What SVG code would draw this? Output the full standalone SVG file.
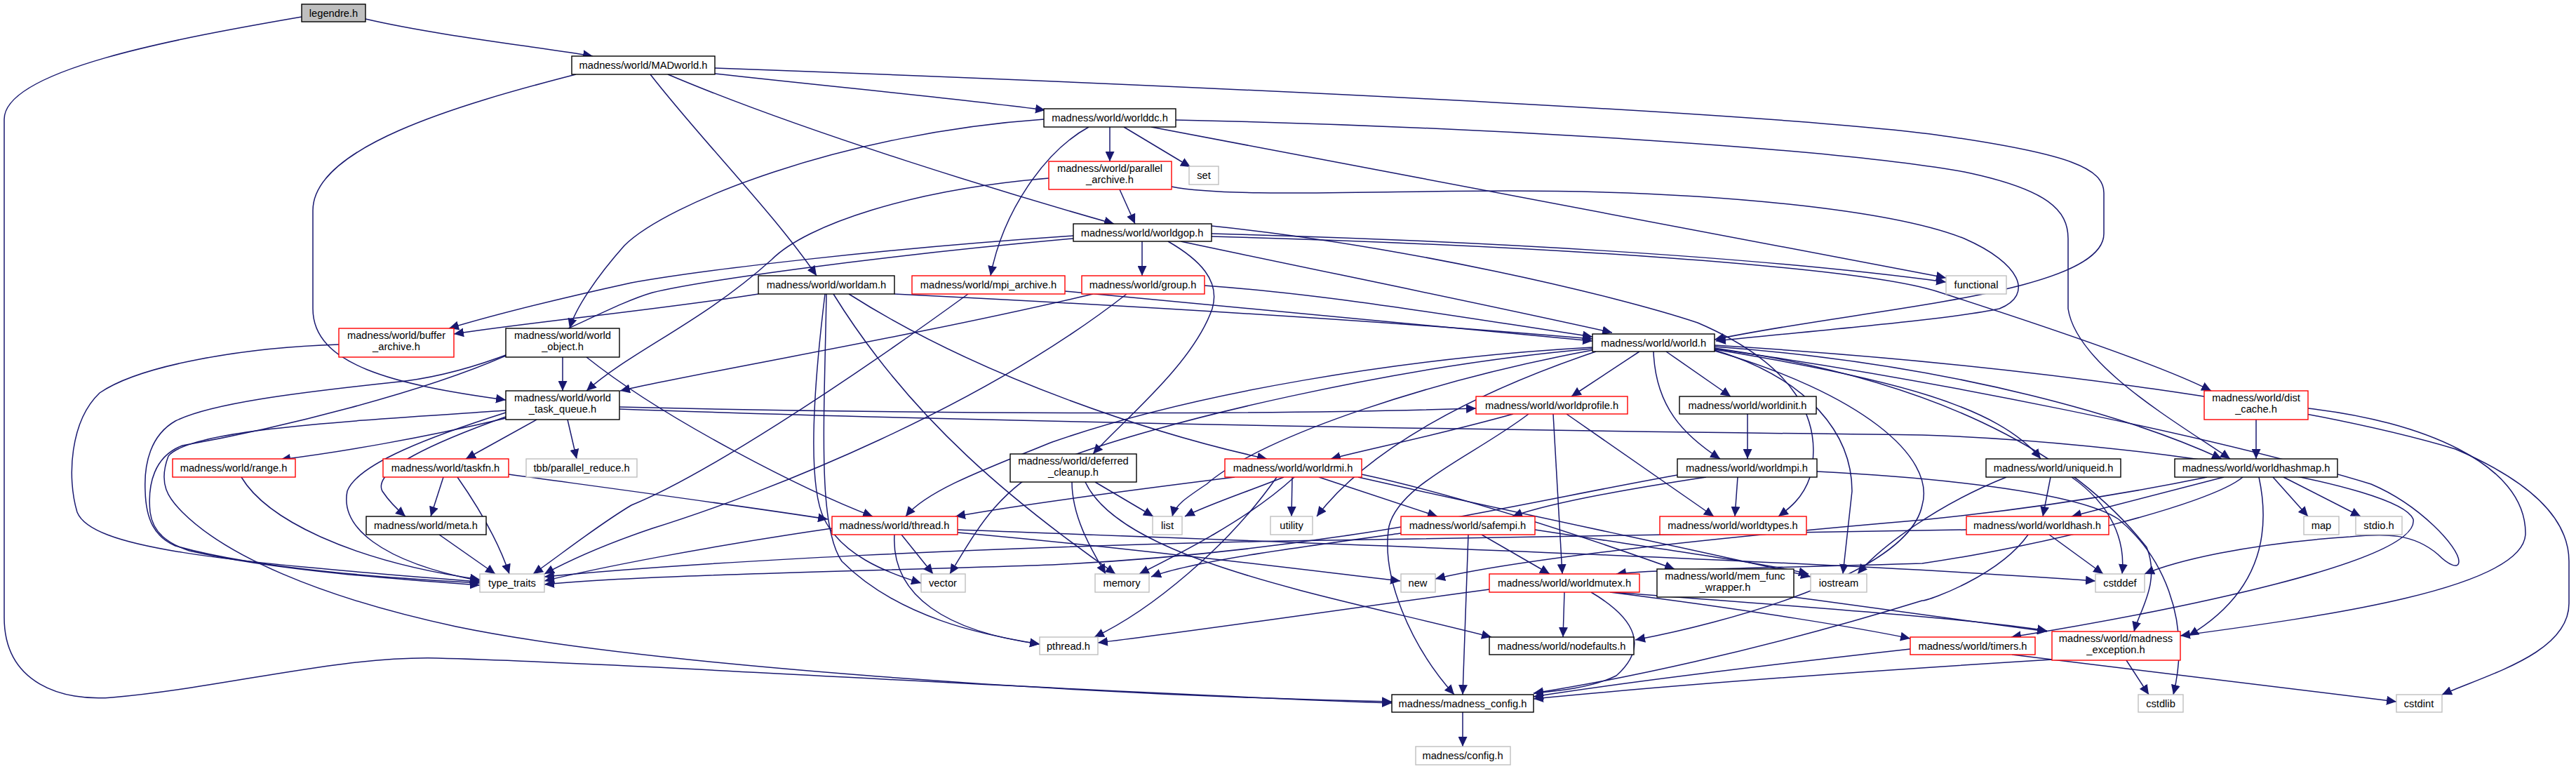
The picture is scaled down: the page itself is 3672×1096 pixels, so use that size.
<svg xmlns="http://www.w3.org/2000/svg" width="3672" height="1096" viewBox="0 0 3672 1096">
<defs>
<style>
.n rect{fill:#fff;stroke:#000;stroke-width:1.4}
.n.r rect{stroke:#ff0000}
.n.g rect{stroke:#bfbfbf}
.n.s rect{fill:#bfbfbf}
text{font-family:"Liberation Sans",Arial,sans-serif;font-size:14.7px;text-anchor:middle;fill:#000}
.e path{fill:none;stroke:#191970;stroke-width:1.5;marker-end:url(#a)}
</style>
<marker id="a" markerUnits="userSpaceOnUse" markerWidth="15" markerHeight="13" refX="14" refY="6.5" orient="auto"><path d="M0,0 L14,6.5 L0,13 z" fill="#191970"/></marker>
</defs>
<rect width="3672" height="1096" fill="#fff"/>
<g id="edges" class="e">
<path d="M521,27 C620,50 760,66 845,80"/>
<path d="M430,24 C250,55 6,100 6,170 L6,880 C6,975 90,1000 160,994 C320,980 480,935 623,938 C900,945 1500,985 1984,1002"/>
<path d="M1019,105 C1200,125 1380,142 1490,157"/>
<path d="M952,106 C1150,190 1450,280 1588,319"/>
<path d="M927,106 C1000,200 1100,300 1164,393"/>
<path d="M821,106 C650,150 446,210 446,300 L446,440 C446,520 560,548 721,570"/>
<path d="M1019,97 C1600,118 2550,160 2780,195 C2950,220 2999,240 2999,275 L2999,333 C2999,420 2650,440 2444,484"/>
<path d="M1582,181 L1582,230"/>
<path d="M1602,181 L1697,238"/>
<path d="M1641,181 L2774,396"/>
<path d="M1488,170 C1200,190 950,290 890,350 C850,395 820,440 812,468"/>
<path d="M1552,181 C1490,215 1430,300 1412,393"/>
<path d="M1676,171 C2100,180 2600,210 2800,245 C2920,270 2948,300 2948,340 L2948,440 C2960,520 3100,600 3179,654"/>
<path d="M1596,270 L1618,319"/>
<path d="M1670,266 C1750,282 1950,272 2150,272 C2450,272 2700,300 2800,340 C2880,375 2900,420 2850,440 C2780,455 2600,470 2446,486"/>
<path d="M1495,254 C1300,270 1150,320 1100,370 C1000,460 900,500 836,557"/>
<path d="M1628,344 L1628,393"/>
<path d="M1665,344 C1710,370 1740,400 1728,440 C1700,520 1600,600 1558,647"/>
<path d="M1683,344 C1900,390 2100,430 2298,474"/>
<path d="M1727,333 C2100,343 2500,365 2774,402"/>
<path d="M1727,337 C2200,350 2650,380 2760,415 C2900,460 3080,520 3152,557"/>
<path d="M1530,336 C1250,355 1000,385 900,403 C800,425 700,450 640,468"/>
<path d="M1530,340 C1250,365 1000,400 930,417 C850,440 720,530 560,545 C420,560 300,575 250,600 C215,620 205,660 207,700 C208,740 220,765 250,778 C380,815 600,826 684,831"/>
<path d="M1727,322 C2000,350 2300,420 2420,460 C2560,520 2600,600 2580,680 C2570,710 2550,725 2535,736"/>
<path d="M1275,419 C1700,440 2000,460 2270,483"/>
<path d="M1081,419 C950,440 750,460 647,476"/>
<path d="M1210,419 C1400,540 1650,620 1806,654"/>
<path d="M1176,419 C1160,550 1150,690 1175,740 C1200,790 1260,815 1313,831"/>
<path d="M1178,419 C1175,600 1165,750 1200,800 C1280,880 1400,905 1482,918"/>
<path d="M1188,419 C1300,600 1450,720 1590,818"/>
<path d="M1518,415 C1800,440 2050,465 2270,486"/>
<path d="M1380,419 C1200,550 1000,680 900,720 C850,750 800,790 760,818"/>
<path d="M1717,407 C1900,420 2100,455 2270,480"/>
<path d="M1558,419 C1300,480 1000,530 884,557"/>
<path d="M1606,419 C1400,580 1100,700 930,753 C850,780 800,805 776,818"/>
<path d="M483,491 C350,495 200,520 142,560 C100,600 95,680 110,730 C130,780 300,800 684,829"/>
<path d="M802,509 L802,557"/>
<path d="M836,509 C950,600 1150,700 1244,736"/>
<path d="M721,507 C600,560 400,610 260,635 C220,650 210,690 214,730 C218,760 240,775 270,785 C400,815 600,828 684,834"/>
<path d="M721,596 C600,625 480,645 400,655"/>
<path d="M765,598 L664,654"/>
<path d="M809,598 L822,654"/>
<path d="M721,594 C620,630 530,670 545,700 C555,715 565,725 578,736"/>
<path d="M721,588 C620,620 510,660 495,700 C485,750 540,800 684,828"/>
<path d="M721,585 C500,600 270,612 240,650 C225,690 240,710 260,730 C320,790 450,850 650,893 C900,945 1500,990 1984,1000"/>
<path d="M883,580 C1300,590 1800,592 2104,582"/>
<path d="M883,583 C1500,605 2300,615 2740,620 C3050,630 3420,690 3440,740 C3450,800 3100,870 2867,908"/>
<path d="M2337,501 L2240,565"/>
<path d="M2375,501 L2467,565"/>
<path d="M2357,501 C2360,580 2400,620 2452,654"/>
<path d="M2444,498 C2700,540 2850,580 2909,654"/>
<path d="M2444,494 C2800,520 3050,600 3167,654"/>
<path d="M2275,501 C2100,560 1950,640 1877,736"/>
<path d="M2270,499 C2050,540 1800,620 1720,690 C1690,710 1675,720 1671,736"/>
<path d="M2270,495 C2000,510 1700,560 1500,630 C1400,670 1320,700 1291,736"/>
<path d="M2270,497 C2000,520 1650,600 1500,660 C1420,700 1390,760 1354,818"/>
<path d="M2444,499 C2580,540 2640,620 2640,700 L2627,818"/>
<path d="M2444,492 C2900,520 3300,580 3500,640 C3640,700 3662,760 3662,800 L3662,860 C3662,930 3550,960 3481,990"/>
<path d="M2444,496 C2750,540 2950,640 3060,780 C3080,830 3050,870 3042,900"/>
<path d="M2444,497 C2750,540 3150,620 3380,690 C3450,720 3505,780 3505,800 C3505,812 3490,805 3475,790 C3440,760 3400,760 3350,765 C3200,775 3100,800 3057,818"/>
<path d="M2444,500 C2650,560 2760,650 2740,720 C2720,820 2450,890 2331,912"/>
<path d="M2491,590 L2491,654"/>
<path d="M2477,680 L2473,736"/>
<path d="M2432,680 C2300,700 2200,720 2156,736"/>
<path d="M2391,677 C2150,720 1900,785 1500,805 C1200,815 900,820 776,833"/>
<path d="M2590,672 C2750,680 2960,700 3020,740 C3080,790 3125,880 3098,990"/>
<path d="M2157,590 C2050,620 1950,640 1897,654"/>
<path d="M2214,590 L2227,818"/>
<path d="M2233,590 L2443,736"/>
<path d="M2179,590 C2100,650 1995,690 1980,750 C1968,820 2010,920 2073,990"/>
<path d="M632,680 L614,736"/>
<path d="M652,680 C680,720 710,770 726,818"/>
<path d="M725,676 C900,700 1050,720 1180,740"/>
<path d="M344,680 C380,740 500,800 684,826"/>
<path d="M626,762 L706,818"/>
<path d="M1186,753 C1000,780 850,810 776,828"/>
<path d="M1285,762 L1330,818"/>
<path d="M1275,762 C1270,850 1350,900 1482,918"/>
<path d="M1365,755 C1900,775 2600,800 2987,828"/>
<path d="M1365,759 C1600,780 1800,805 1996,828"/>
<path d="M1760,680 C1600,700 1450,720 1362,736"/>
<path d="M1830,680 C1780,700 1720,720 1689,736"/>
<path d="M1845,680 C1780,740 1680,790 1624,818"/>
<path d="M1842,680 L1841,736"/>
<path d="M1880,680 L2049,736"/>
<path d="M1820,680 C1750,780 1640,870 1560,908"/>
<path d="M1941,676 C2100,710 2300,780 2387,811"/>
<path d="M1936,680 C2200,740 2450,790 2581,822"/>
<path d="M1528,687 C1528,740 1560,790 1576,818"/>
<path d="M1561,687 L1644,736"/>
<path d="M1547,687 C1600,800 1900,850 2126,908"/>
<path d="M2093,762 L2085,990"/>
<path d="M2112,762 L2209,818"/>
<path d="M1997,760 C1850,780 1700,800 1641,822"/>
<path d="M2188,755 C2350,780 2500,800 2578,818"/>
<path d="M3146,680 C3000,710 2850,730 2740,741 C2400,770 2150,800 2046,825"/>
<path d="M3170,680 L2953,736"/>
<path d="M3197,680 C3150,720 2900,780 2740,803 C2500,810 2350,812 2304,818"/>
<path d="M3220,680 C3235,750 3230,840 3120,906"/>
<path d="M3240,680 L3290,736"/>
<path d="M3255,680 L3365,736"/>
<path d="M2803,755 C2400,760 2000,770 1830,771 C1400,780 1000,800 776,822"/>
<path d="M2891,762 C2850,820 2750,856 2740,856 C2500,930 2300,970 2186,988"/>
<path d="M2921,762 L2998,818"/>
<path d="M2860,680 C2760,720 2680,780 2648,818"/>
<path d="M2923,680 L2912,736"/>
<path d="M2953,680 C3010,720 3030,770 3025,818"/>
<path d="M2230,844 L2228,908"/>
<path d="M2268,844 C2334,883 2349,923 2304,963 C2270,980 2220,985 2186,988"/>
<path d="M2123,840 C1900,870 1700,900 1565,916"/>
<path d="M2295,844 C2500,870 2650,895 2723,910"/>
<path d="M2300,844 C2500,860 2800,880 2918,899"/>
<path d="M2557,851 C2700,870 2850,890 2918,900"/>
<path d="M2868,933 C3100,960 3300,985 3416,1000"/>
<path d="M2723,925 C2500,950 2300,975 2186,993"/>
<path d="M3031,941 L3063,990"/>
<path d="M2925,940 C2600,960 2350,980 2186,996"/>
<path d="M3216,598 L3216,654"/>
<path d="M3290,582 C3450,600 3600,660 3600,760 C3600,840 3300,880 3108,906"/>
<path d="M2085,1015 L2085,1064"/>
</g>
<g id="legendre" class="n s"><rect x="430" y="6" width="91" height="25"/><text x="475.5" y="24">legendre.h</text></g>
<g id="MADworld" class="n"><rect x="815" y="80" width="204" height="26"/><text x="917" y="98">madness/world/MADworld.h</text></g>
<g id="worlddc" class="n"><rect x="1488" y="155" width="188" height="26"/><text x="1582" y="173">madness/world/worlddc.h</text></g>
<g id="parallel_archive" class="n r"><rect x="1495" y="230" width="175" height="40"/><text x="1582" y="245">madness/world/parallel</text><text x="1582" y="261">_archive.h</text></g>
<g id="set" class="n g"><rect x="1695" y="237" width="42" height="26"/><text x="1716" y="255">set</text></g>
<g id="worldgop" class="n"><rect x="1530" y="319" width="197" height="25"/><text x="1628" y="337">madness/world/worldgop.h</text></g>
<g id="worldam" class="n"><rect x="1081" y="393" width="194" height="26"/><text x="1178" y="411">madness/world/worldam.h</text></g>
<g id="mpi_archive" class="n r"><rect x="1300" y="393" width="218" height="26"/><text x="1409" y="411">madness/world/mpi_archive.h</text></g>
<g id="group" class="n r"><rect x="1542" y="393" width="175" height="26"/><text x="1629" y="411">madness/world/group.h</text></g>
<g id="functional" class="n g"><rect x="2774" y="393" width="86" height="26"/><text x="2817" y="411">functional</text></g>
<g id="buffer_archive" class="n r"><rect x="483" y="468" width="164" height="41"/><text x="565" y="483">madness/world/buffer</text><text x="565" y="499">_archive.h</text></g>
<g id="world_object" class="n"><rect x="721" y="468" width="162" height="41"/><text x="802" y="483">madness/world/world</text><text x="802" y="499">_object.h</text></g>
<g id="world" class="n"><rect x="2270" y="476" width="174" height="25"/><text x="2357" y="494">madness/world/world.h</text></g>
<g id="world_task_queue" class="n"><rect x="721" y="557" width="162" height="41"/><text x="802" y="572">madness/world/world</text><text x="802" y="588">_task_queue.h</text></g>
<g id="worldprofile" class="n r"><rect x="2104" y="565" width="216" height="25"/><text x="2212" y="583">madness/world/worldprofile.h</text></g>
<g id="worldinit" class="n"><rect x="2394" y="565" width="195" height="25"/><text x="2491" y="583">madness/world/worldinit.h</text></g>
<g id="dist_cache" class="n r"><rect x="3142" y="557" width="148" height="41"/><text x="3216" y="572">madness/world/dist</text><text x="3216" y="588">_cache.h</text></g>
<g id="deferred_cleanup" class="n"><rect x="1440" y="647" width="180" height="40"/><text x="1530" y="662">madness/world/deferred</text><text x="1530" y="678">_cleanup.h</text></g>
<g id="range" class="n r"><rect x="246" y="654" width="175" height="26"/><text x="333" y="672">madness/world/range.h</text></g>
<g id="taskfn" class="n r"><rect x="546" y="654" width="179" height="26"/><text x="635" y="672">madness/world/taskfn.h</text></g>
<g id="tbb" class="n g"><rect x="750" y="654" width="158" height="26"/><text x="829" y="672">tbb/parallel_reduce.h</text></g>
<g id="worldrmi" class="n r"><rect x="1746" y="654" width="195" height="26"/><text x="1843" y="672">madness/world/worldrmi.h</text></g>
<g id="worldmpi" class="n"><rect x="2391" y="654" width="199" height="26"/><text x="2490" y="672">madness/world/worldmpi.h</text></g>
<g id="uniqueid" class="n"><rect x="2831" y="654" width="192" height="26"/><text x="2927" y="672">madness/world/uniqueid.h</text></g>
<g id="worldhashmap" class="n"><rect x="3100" y="654" width="232" height="26"/><text x="3216" y="672">madness/world/worldhashmap.h</text></g>
<g id="meta" class="n"><rect x="522" y="736" width="171" height="26"/><text x="607" y="754">madness/world/meta.h</text></g>
<g id="thread" class="n r"><rect x="1186" y="736" width="179" height="26"/><text x="1275" y="754">madness/world/thread.h</text></g>
<g id="list" class="n g"><rect x="1643" y="736" width="42" height="26"/><text x="1664" y="754">list</text></g>
<g id="utility" class="n g"><rect x="1811" y="736" width="60" height="26"/><text x="1841" y="754">utility</text></g>
<g id="safempi" class="n r"><rect x="1997" y="736" width="191" height="26"/><text x="2092" y="754">madness/world/safempi.h</text></g>
<g id="worldtypes" class="n r"><rect x="2366" y="736" width="209" height="26"/><text x="2470" y="754">madness/world/worldtypes.h</text></g>
<g id="worldhash" class="n r"><rect x="2803" y="736" width="203" height="26"/><text x="2904" y="754">madness/world/worldhash.h</text></g>
<g id="map" class="n g"><rect x="3284" y="736" width="50" height="26"/><text x="3309" y="754">map</text></g>
<g id="stdio" class="n g"><rect x="3358" y="736" width="66" height="26"/><text x="3391" y="754">stdio.h</text></g>
<g id="type_traits" class="n g"><rect x="684" y="818" width="92" height="26"/><text x="730" y="836">type_traits</text></g>
<g id="vector" class="n g"><rect x="1313" y="818" width="63" height="26"/><text x="1344" y="836">vector</text></g>
<g id="memory" class="n g"><rect x="1561" y="818" width="77" height="26"/><text x="1599" y="836">memory</text></g>
<g id="new" class="n g"><rect x="1997" y="818" width="49" height="26"/><text x="2021" y="836">new</text></g>
<g id="worldmutex" class="n r"><rect x="2123" y="818" width="214" height="26"/><text x="2230" y="836">madness/world/worldmutex.h</text></g>
<g id="mem_func_wrapper" class="n"><rect x="2362" y="811" width="195" height="40"/><text x="2459" y="826">madness/world/mem_func</text><text x="2459" y="842">_wrapper.h</text></g>
<g id="iostream" class="n g"><rect x="2581" y="818" width="80" height="26"/><text x="2621" y="836">iostream</text></g>
<g id="cstddef" class="n g"><rect x="2987" y="818" width="70" height="26"/><text x="3022" y="836">cstddef</text></g>
<g id="pthread" class="n g"><rect x="1482" y="908" width="83" height="25"/><text x="1523" y="926">pthread.h</text></g>
<g id="nodefaults" class="n"><rect x="2123" y="908" width="206" height="25"/><text x="2226" y="926">madness/world/nodefaults.h</text></g>
<g id="timers" class="n r"><rect x="2723" y="908" width="178" height="25"/><text x="2812" y="926">madness/world/timers.h</text></g>
<g id="madness_exception" class="n r"><rect x="2925" y="900" width="183" height="41"/><text x="3016" y="915">madness/world/madness</text><text x="3016" y="931">_exception.h</text></g>
<g id="madness_config" class="n"><rect x="1984" y="990" width="202" height="25"/><text x="2085" y="1008">madness/madness_config.h</text></g>
<g id="cstdlib" class="n g"><rect x="3048" y="990" width="64" height="25"/><text x="3080" y="1008">cstdlib</text></g>
<g id="cstdint" class="n g"><rect x="3416" y="990" width="65" height="25"/><text x="3448" y="1008">cstdint</text></g>
<g id="config" class="n g"><rect x="2018" y="1064" width="135" height="26"/><text x="2085" y="1082">madness/config.h</text></g>
</svg>
